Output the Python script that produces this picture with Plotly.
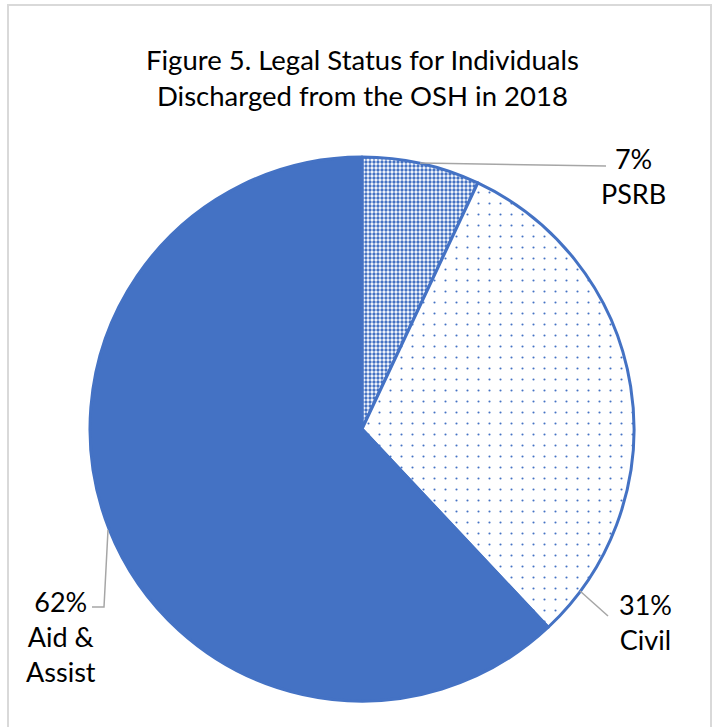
import plotly.graph_objects as go

categories = ["PSRB", "Civil", "Aid & Assist"]
values = [7, 31, 62]
label_text = ["7%<br>PSRB", "31%<br>Civil", "62%<br>Aid &<br>Assist"]
title_text = "Figure 5. Legal Status for Individuals<br>Discharged from the OSH in 2018"

W, H = 713, 727
BLUE = "#4472C4"
FONT = "Lato, Carlito, 'Open Sans', sans-serif"

def px(x):
    return x / W

def py(y):
    return 1 - y / H

fig = go.Figure()
fig.add_trace(go.Pie(
    labels=categories,
    values=values,
    sort=False,
    direction="clockwise",
    rotation=0,
    textinfo="none",
    hoverinfo="label+percent",
    showlegend=False,
    domain=dict(x=[px(90), px(634)], y=[py(701), py(157)]),
    marker=dict(
        colors=["white", "white", BLUE],
        line=dict(color=BLUE, width=3),
        pattern=dict(
            shape=[".", ".", ""],
            size=[4, 11, 8],
            solidity=[0.55, 0.03, 0.3],
            fgcolor=BLUE,
            bgcolor=["white", "white", BLUE],
            fillmode="replace",
        ),
    ),
))

annotations = [
    dict(x=px(363), y=py(78), text=title_text, showarrow=False,
         xanchor="center", yanchor="middle", font=dict(size=27.5, color="black", family=FONT)),
]
label_pos = [(633, 176), (645, 622), (61, 636)]
for t, (x, y) in zip(label_text, label_pos):
    annotations.append(dict(x=px(x), y=py(y), text=t, showarrow=False,
                            xanchor="center", yanchor="middle",
                            font=dict(size=27, color="black", family=FONT)))

leader_lines = [
    [(420, 163), (606, 166)],
    [(580, 591), (608, 616)],
    [(108, 530), (104, 607), (92, 607)],
]
shapes = []
for pts in leader_lines:
    path = "M " + " L ".join(f"{px(x)},{py(y)}" for x, y in pts)
    shapes.append(dict(type="path", xref="paper", yref="paper", path=path,
                       line=dict(color="#A6A6A6", width=1.5)))
shapes.append(dict(type="rect", xref="paper", yref="paper",
                   x0=px(8), x1=px(711), y0=-0.02, y1=py(5),
                   line=dict(color="#D9D9D9", width=2)))

fig.update_layout(
    width=W, height=H,
    margin=dict(l=0, r=0, t=0, b=0),
    paper_bgcolor="white",
    plot_bgcolor="white",
    annotations=annotations,
    shapes=shapes,
)

fig.write_html("out.html",
               config={"displayModeBar": False},
               post_script="document.body.style.margin='0';document.body.style.padding='0';document.body.style.overflow='hidden';")
